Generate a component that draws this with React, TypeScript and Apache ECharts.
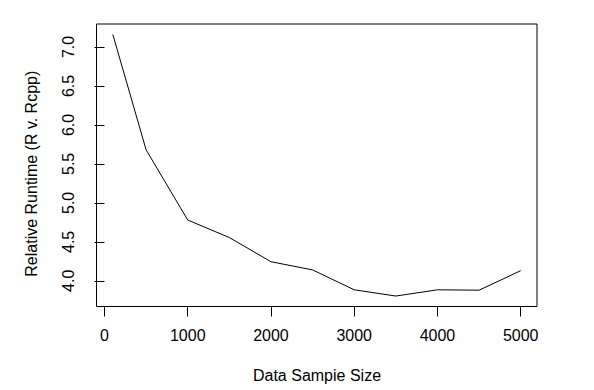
import React, { useEffect, useRef } from "react";
import * as echarts from "echarts";

const sampleSizes = [100, 500, 1000, 1500, 2000, 2500, 3000, 3500, 4000, 4500, 5000];
const relativeRuntime = [7.16, 5.68, 4.78, 4.555, 4.245, 4.14, 3.885, 3.805, 3.885, 3.88, 4.13];
const xTicks = [0, 1000, 2000, 3000, 4000, 5000];
const yTicks = [4.0, 4.5, 5.0, 5.5, 6.0, 6.5, 7.0];
const xTitle = "Data Sampie Size";
const yTitle = "Relative Runtime (R v. Rcpp)";

const FONT = "'Liberation Sans', Arial, Helvetica, sans-serif";

export default function App() {
  const ref = useRef<HTMLDivElement>(null);
  useEffect(() => {
    if (!ref.current) return;
    const chart = echarts.init(ref.current, undefined, { renderer: "svg" });
    const xMin = 100, xMax = 5000;
    const xPad = (xMax - xMin) * 0.04;
    const yMinD = Math.min(...relativeRuntime), yMaxD = Math.max(...relativeRuntime);
    const yPad = (yMaxD - yMinD) * 0.04;
    chart.setOption({
      animation: false,
      backgroundColor: "#ffffff",
      grid: {
        left: 96.5,
        top: 24,
        right: 57,
        bottom: 83.5,
        show: true,
        borderColor: "#000",
        borderWidth: 1,
        backgroundColor: "transparent",
      },
      xAxis: {
        type: "value",
        min: xMin - xPad,
        max: xMax + xPad,
        splitLine: { show: false },
        axisLine: { show: false },
        axisTick: { show: true, length: 10, lineStyle: { color: "#000", width: 1 }, customValues: xTicks },
        axisLabel: {
          customValues: xTicks,
          color: "#000",
          fontSize: 16,
          fontFamily: FONT,
          margin: 21,
          formatter: (v: number) => String(v),
        },
      },
      yAxis: {
        type: "value",
        min: yMinD - yPad,
        max: yMaxD + yPad,
        splitLine: { show: false },
        axisLine: { show: false },
        axisTick: { show: true, length: 10, lineStyle: { color: "#000", width: 1 }, customValues: yTicks },
        axisLabel: {
          customValues: yTicks,
          color: "#000",
          fontSize: 16,
          fontFamily: FONT,
          rotate: 90,
          margin: 20,
          formatter: (v: number) => v.toFixed(1),
        },
      },
      graphic: [
        {
          type: "text",
          x: 317,
          y: 375,
          style: {
            text: xTitle,
            fill: "#000",
            fontSize: 16,
            fontFamily: FONT,
            textAlign: "center",
            textVerticalAlign: "middle",
          },
        },
        {
          type: "text",
          x: 31.5,
          y: 173.7,
          rotation: Math.PI / 2,
          style: {
            text: yTitle,
            fill: "#000",
            fontSize: 16,
            fontFamily: FONT,
            textAlign: "center",
            textVerticalAlign: "middle",
          },
        },
      ],
      series: [
        {
          type: "line",
          data: sampleSizes.map((x, i) => [x, relativeRuntime[i]]),
          showSymbol: false,
          lineStyle: { color: "#000", width: 1 },
          itemStyle: { color: "#000" },
        },
      ],
    });
    return () => chart.dispose();
  }, []);
  return <div ref={ref} style={{ width: 594, height: 390, position: "absolute", left: 0, top: 0 }} />;
}
